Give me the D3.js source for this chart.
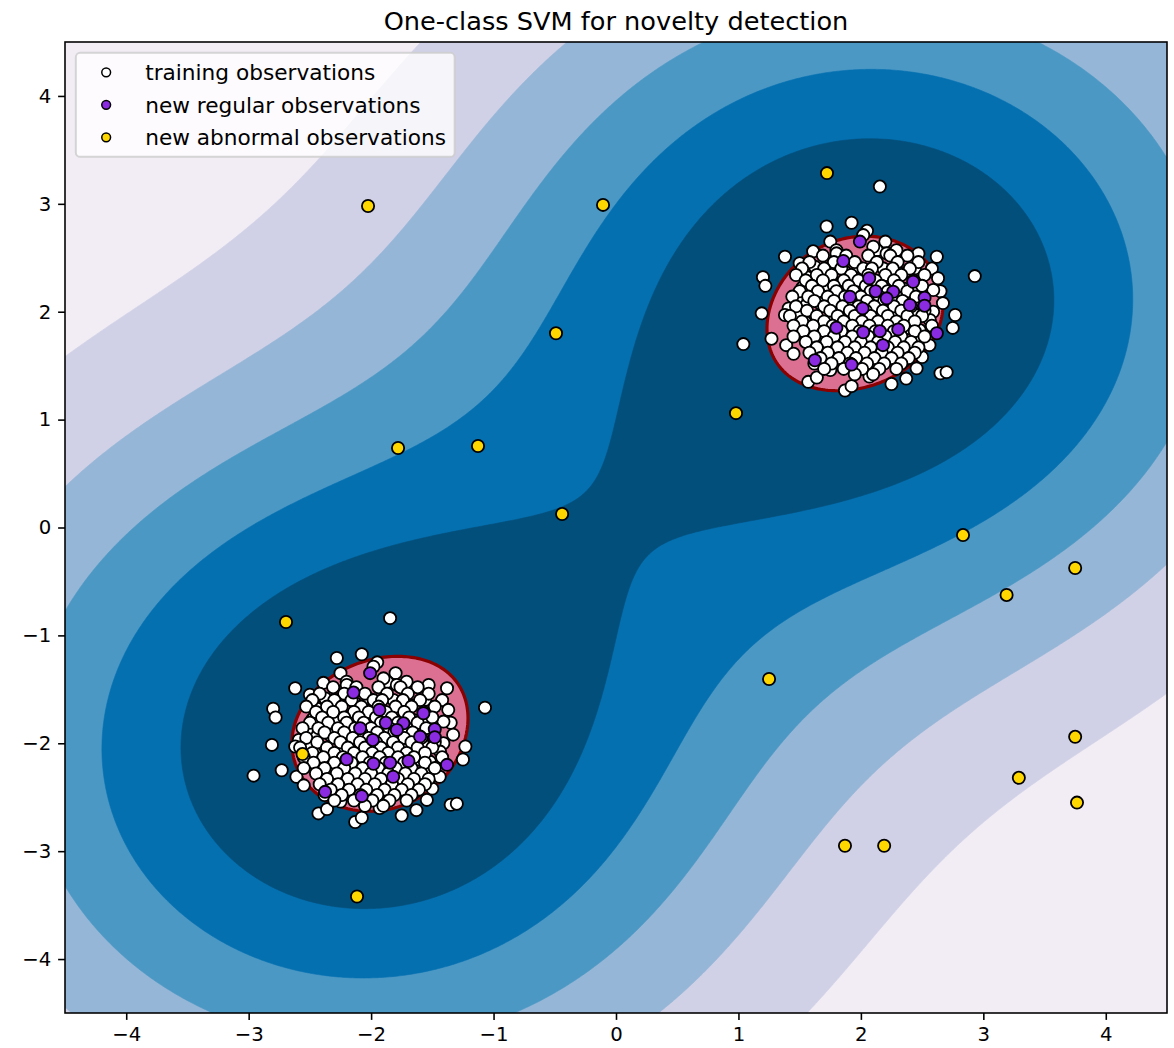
<!DOCTYPE html>
<html>
<head>
<meta charset="utf-8">
<script src="https://cdn.jsdelivr.net/npm/d3@7"></script>
<style>
  body { margin: 0; background: #ffffff; }
  svg { display: block; }
  text { font-family: "DejaVu Sans", sans-serif; fill: #000; }
</style>
</head>
<body>
<svg id="chart" width="1174" height="1048"></svg>
<script>
// ---------------------------------------------------------------------------
// Data
// ---------------------------------------------------------------------------
const titleText = "One-class SVM for novelty detection";

// The two blobs of regular observations share one sample of offsets,
// placed around each of these centres.
const clusterCentres = [[2, 2], [-2, -2]];

// Training sample: offsets from a cluster centre (outer ring first).
const trainOuter = [
  [-0.28, 0.79], [-0.076, 0.825], [0.155, 1.16], [-0.62, 0.51], [-0.50, 0.45],
  [-0.80, 0.32], [-0.78, 0.24], [-0.81, -0.015], [-0.96, -0.30], [-0.73, -0.25],
  [-0.61, -0.31], [-0.55, -0.39], [0.93, 0.33], [0.77, -0.03], [0.75, -0.15],
  [0.65, -0.57], [0.70, -0.56], [0.37, -0.62], [0.25, -0.67], [-0.13, -0.73],
  [-0.076, -0.69], [-0.43, -0.65], [-0.36, -0.61], [0.47, 0.54], [0.62, 0.51],
  [0.58, 0.40], [0.29, 0.57], [-0.25, 0.65], [0.05, 0.75], [0.20, 0.65],
  [0.63, 0.31], [0.65, 0.19], [0.67, 0.08], [0.59, 0.0], [0.48, -0.28],
  [0.56, -0.31], [0.50, -0.42], [0.35, -0.46], [0.07, -0.60], [-0.25, -0.54],
  [-0.59, 0.03], [-0.62, -0.03], [-0.48, 0.22], [-0.44, 0.32], [-0.39, 0.56],
  [-0.20, 0.57], [0.13, 0.57]
];
const trainCore = [
  [-0.199, 0.541], [0.101, 0.602], [0.210, 0.541], [-0.376, 0.417], [-0.267, 0.402],
  [-0.131, 0.371], [-0.022, 0.417], [0.182, 0.402], [0.318, 0.355], [0.441, 0.402],
  [-0.471, 0.232], [-0.389, 0.263], [-0.294, 0.216], [-0.171, 0.247], [-0.049, 0.247],
  [0.346, 0.216], [0.455, 0.185], [0.591, 0.201], [-0.444, 0.093], [-0.335, 0.077],
  [-0.212, 0.062], [-0.171, 0.0], [0.128, 0.0], [0.25, 0.0], [0.346, 0.0],
  [0.455, -0.031], [0.563, -0.077], [-0.457, -0.093], [-0.362, -0.124], [-0.253, -0.093],
  [-0.09, -0.077], [0.1, -0.077], [0.21, -0.093], [0.40, -0.154], [0.48, -0.17],
  [-0.444, -0.216], [-0.335, -0.278], [-0.226, -0.34], [-0.117, -0.309], [0.019, -0.34],
  [0.128, -0.371], [0.264, -0.309], [0.373, -0.34], [-0.308, -0.432], [-0.171, -0.432],
  [0.073, -0.463], [0.21, -0.432], [0.318, -0.463], [-0.008, -0.525], [-0.5, -0.03],
  [-0.525, 0.124], [0.019, 0.71], [0.455, -0.525],
  [-0.31, 0.52], [-0.12, 0.52], [0.06, 0.52], [0.24, 0.52], [0.38, 0.52],
  [-0.42, 0.46], [-0.22, 0.46], [-0.05, 0.46], [0.13, 0.46], [0.30, 0.46], [0.47, 0.46],
  [-0.48, 0.40], [-0.30, 0.40], [-0.16, 0.40], [0.02, 0.40], [0.09, 0.40], [0.26, 0.40], [0.40, 0.40],
  [-0.53, 0.34], [-0.36, 0.34], [-0.24, 0.34], [-0.08, 0.34], [0.06, 0.34], [0.20, 0.34], [0.33, 0.34], [0.52, 0.34],
  [-0.45, 0.29], [-0.31, 0.29], [-0.14, 0.29], [-0.02, 0.29], [0.12, 0.29], [0.27, 0.29], [0.43, 0.29],
  [-0.40, 0.24], [-0.22, 0.24], [-0.10, 0.24], [0.04, 0.24], [0.17, 0.24], [0.31, 0.24], [0.50, 0.24],
  [-0.50, 0.19], [-0.35, 0.19], [-0.20, 0.19], [-0.06, 0.19], [0.08, 0.19], [0.22, 0.19], [0.38, 0.19],
  [-0.56, 0.14], [-0.43, 0.14], [-0.27, 0.14], [-0.13, 0.14], [0.00, 0.14], [0.15, 0.14], [0.29, 0.14], [0.45, 0.14],
  [-0.38, 0.10], [-0.22, 0.10], [-0.08, 0.10], [0.05, 0.10], [0.19, 0.10], [0.34, 0.10],
  [-0.53, 0.05], [-0.30, 0.05], [-0.15, 0.05], [-0.02, 0.05], [0.11, 0.05], [0.27, 0.05], [0.41, 0.05],
  [-0.44, 0.01], [-0.25, 0.01], [-0.09, 0.01], [0.04, 0.01], [0.18, 0.01], [0.33, 0.01], [0.52, 0.01],
  [-0.58, -0.04], [-0.36, -0.04], [-0.19, -0.04], [-0.05, -0.04], [0.08, -0.04], [0.22, -0.04], [0.38, -0.04], [0.50, -0.04],
  [-0.48, -0.09], [-0.30, -0.09], [-0.14, -0.09], [0.01, -0.09], [0.14, -0.09], [0.29, -0.09], [0.44, -0.09],
  [-0.55, -0.13], [-0.39, -0.13], [-0.23, -0.13], [-0.07, -0.13], [0.07, -0.13], [0.22, -0.13], [0.35, -0.13], [0.58, -0.13],
  [-0.47, -0.18], [-0.30, -0.18], [-0.16, -0.18], [-0.01, -0.18], [0.12, -0.18], [0.27, -0.18], [0.44, -0.18],
  [-0.55, -0.23], [-0.38, -0.23], [-0.22, -0.23], [-0.07, -0.23], [0.06, -0.23], [0.20, -0.23], [0.33, -0.23], [0.52, -0.23],
  [-0.45, -0.28], [-0.28, -0.28], [-0.13, -0.28], [0.00, -0.28], [0.14, -0.28], [0.28, -0.28], [0.41, -0.28],
  [-0.36, -0.33], [-0.19, -0.33], [-0.05, -0.33], [0.08, -0.33], [0.22, -0.33], [0.35, -0.33], [0.47, -0.33],
  [-0.42, -0.38], [-0.27, -0.38], [-0.11, -0.38], [0.03, -0.38], [0.17, -0.38], [0.30, -0.38], [0.44, -0.38],
  [-0.33, -0.43], [-0.18, -0.43], [-0.04, -0.43], [0.11, -0.43], [0.25, -0.43], [0.39, -0.43],
  [-0.38, -0.48], [-0.24, -0.48], [-0.09, -0.48], [0.05, -0.48], [0.19, -0.48], [0.33, -0.48],
  [-0.30, -0.53], [-0.14, -0.53], [0.01, -0.53], [0.15, -0.53], [0.29, -0.53],
  [-0.05, -0.58], [0.10, -0.58]
];

// New regular observations: offsets from a cluster centre.
const testOffsets = [
  [-0.008, 0.65], [-0.144, 0.47], [0.068, 0.31], [0.12, 0.19], [0.264, 0.185],
  [0.21, 0.124], [0.427, 0.278], [0.52, 0.13], [0.40, 0.062], [0.52, 0.056],
  [-0.09, 0.139], [0.014, 0.031], [-0.2, -0.148], [0.019, -0.19], [0.155, -0.18],
  [0.305, -0.164], [0.18, -0.31], [0.62, -0.20], [-0.376, -0.45], [-0.076, -0.49]
];

// New abnormal observations.
const abnormalPoints = [
  [-2.025, 2.98], [-0.106, 2.99], [1.723, 3.285], [-0.49, 1.80], [-1.78, 0.737],
  [-1.127, 0.755], [-0.44, 0.125], [0.98, 1.06], [-2.695, -0.876], [2.834, -0.07],
  [3.19, -0.625], [3.75, -0.375], [1.25, -1.404], [3.75, -1.94], [3.29, -2.32],
  [3.765, -2.55], [1.87, -2.95], [2.19, -2.95], [-2.115, -3.42], [-2.56, -2.10]
];

const xTicks = [-4, -3, -2, -1, 0, 1, 2, 3, 4];
const yTicks = [-4, -3, -2, -1, 0, 1, 2, 3, 4];
const legendLabels = ["training observations", "new regular observations", "new abnormal observations"];

// Model settings
const nu = 0.1;
const gamma = 0.1;
const bandCount = 6;

// ---------------------------------------------------------------------------
// Layout
// ---------------------------------------------------------------------------
const W = 1174, H = 1048;
const plot = { left: 65, right: 1167, top: 42, bottom: 1013 };
const viewLimits = [-4.5, 4.5];

const x = d3.scaleLinear().domain(viewLimits).range([plot.left, plot.right]);
const y = d3.scaleLinear().domain(viewLimits).range([plot.bottom, plot.top]);

const PX = 1.97;                 // pixels per point
const tickFont = 10 * PX;
const legendFont = 11 * PX;
const titleFont = 13 * PX;
const markerR = 6.1;
const markerStroke = 1.8;
const legendMarkerR = 4.4;
const legendMarkerStroke = 1.5;

// PuBu ramp (linear between the nine ColorBrewer stops)
const pubuStops = ["#fff7fb", "#ece7f2", "#d0d1e6", "#a6bddb", "#74a9cf",
                   "#3690c0", "#0570b0", "#045a8d", "#023858"];
const pubu = d3.scaleLinear()
  .domain(d3.range(pubuStops.length).map(i => i / (pubuStops.length - 1)))
  .range(pubuStops)
  .interpolate(d3.interpolateRgb);

// ---------------------------------------------------------------------------
// Observations
// ---------------------------------------------------------------------------
const around = offs => clusterCentres.flatMap(c => offs.map(o => [c[0] + o[0], c[1] + o[1]]));
const trainOffsets = trainOuter.concat(trainCore);
const trainPoints = around(trainOffsets);
const testPoints = around(testOffsets);

// ---------------------------------------------------------------------------
// One-class SVM (RBF kernel) trained with SMO on the training observations
// ---------------------------------------------------------------------------
function fitOneClassSVM(X, nu, gamma) {
  const n = X.length, C = 1;
  const Q = new Float64Array(n * n);
  for (let i = 0; i < n; i++) {
    for (let j = i; j < n; j++) {
      const dx = X[i][0] - X[j][0], dy = X[i][1] - X[j][1];
      const v = Math.exp(-gamma * (dx * dx + dy * dy));
      Q[i * n + j] = v; Q[j * n + i] = v;
    }
  }
  const alpha = new Float64Array(n);
  const total = nu * n;
  const nFull = Math.floor(total);
  for (let i = 0; i < nFull; i++) alpha[i] = C;
  if (nFull < n) alpha[nFull] = total - nFull;

  const G = new Float64Array(n);
  for (let i = 0; i < n; i++) {
    let s = 0;
    for (let j = 0; j < n; j++) s += Q[i * n + j] * alpha[j];
    G[i] = s;
  }

  for (let it = 0; it < 400000; it++) {
    let i = -1, j = -1, gi = Infinity, gj = -Infinity;
    for (let t = 0; t < n; t++) {
      if (alpha[t] < C && G[t] < gi) { gi = G[t]; i = t; }
      if (alpha[t] > 0 && G[t] > gj) { gj = G[t]; j = t; }
    }
    if (i < 0 || j < 0 || gj - gi < 1e-7) break;
    const quad = Math.max(Q[i * n + i] + Q[j * n + j] - 2 * Q[i * n + j], 1e-12);
    const delta = Math.min((gj - gi) / quad, C - alpha[i], alpha[j]);
    if (delta <= 0) break;
    alpha[i] += delta; alpha[j] -= delta;
    for (let t = 0; t < n; t++) G[t] += delta * (Q[t * n + i] - Q[t * n + j]);
  }

  let ub = Infinity, lb = -Infinity, sumFree = 0, nFree = 0;
  for (let t = 0; t < n; t++) {
    if (alpha[t] >= C) lb = Math.max(lb, G[t]);
    else if (alpha[t] <= 0) ub = Math.min(ub, G[t]);
    else { sumFree += G[t]; nFree++; }
  }
  const rho = nFree > 0 ? sumFree / nFree : (ub + lb) / 2;

  const sv = [];
  for (let t = 0; t < n; t++) if (alpha[t] > 0) sv.push([X[t][0], X[t][1], alpha[t]]);

  return function decision(px, py) {
    let s = 0;
    for (let k = 0; k < sv.length; k++) {
      const dx = px - sv[k][0], dy = py - sv[k][1];
      s += sv[k][2] * Math.exp(-gamma * (dx * dx + dy * dy));
    }
    return s - rho;
  };
}

const decision = fitOneClassSVM(trainPoints, nu, gamma);

// Sample the decision function over the visible area
const N = 450;
const step = (viewLimits[1] - viewLimits[0]) / N;
const values = new Float64Array(N * N);
for (let j = 0; j < N; j++) {
  const py = viewLimits[0] + (j + 0.5) * step;
  for (let i = 0; i < N; i++) {
    values[j * N + i] = decision(viewLimits[0] + (i + 0.5) * step, py);
  }
}
const zMin = d3.min(values);
const levels = d3.range(bandCount + 1).map(k => zMin + (0 - zMin) * k / bandCount);

const gridToScreen = d3.geoTransform({
  point(cx, cy) {
    this.stream.point(x(viewLimits[0] + cx * step), y(viewLimits[0] + cy * step));
  }
});
const contourPath = d3.geoPath(gridToScreen);
const contourGen = d3.contours().size([N, N]);

// ---------------------------------------------------------------------------
// Drawing
// ---------------------------------------------------------------------------
const svg = d3.select("#chart");
svg.append("rect").attr("width", W).attr("height", H).attr("fill", "#ffffff");

svg.append("defs").append("clipPath").attr("id", "plot-clip")
  .append("rect")
  .attr("x", plot.left).attr("y", plot.top)
  .attr("width", plot.right - plot.left).attr("height", plot.bottom - plot.top);

const area = svg.append("g").attr("clip-path", "url(#plot-clip)");

// Filled decision bands
const bandColour = k => pubu((k + 0.5) / bandCount);
area.append("rect")
  .attr("x", plot.left).attr("y", plot.top)
  .attr("width", plot.right - plot.left).attr("height", plot.bottom - plot.top)
  .attr("fill", bandColour(0));

const bandGroup = area.append("g");
for (let k = 1; k < bandCount; k++) {
  const geom = contourGen.thresholds([levels[k]])(values)[0];
  bandGroup.append("path")
    .attr("d", contourPath(geom))
    .attr("fill", bandColour(k))
    .attr("fill-rule", "evenodd")
    .attr("stroke", bandColour(k))
    .attr("stroke-width", 0.6);
}

// Inside of the learned frontier
const frontier = contourGen.thresholds([0])(values)[0];
area.append("path")
  .attr("d", contourPath(frontier))
  .attr("fill", "#db7093")
  .attr("fill-rule", "evenodd");
area.append("path")
  .attr("d", contourPath(frontier))
  .attr("fill", "none")
  .attr("stroke", "#8b0000")
  .attr("stroke-width", 3.2)
  .attr("stroke-linejoin", "round");

// Observations
function scatter(points, fill) {
  area.append("g").selectAll("circle")
    .data(points)
    .join("circle")
    .attr("cx", d => x(d[0]))
    .attr("cy", d => y(d[1]))
    .attr("r", markerR)
    .attr("fill", fill)
    .attr("stroke", "#000")
    .attr("stroke-width", markerStroke);
}
scatter(trainPoints, "#ffffff");
scatter(testPoints, "#8a2be2");
scatter(abnormalPoints, "#ffd700");

// Axes
const tickLen = 3.5 * PX, tickPad = 3.5 * PX;
const fmt = d3.format("d");
const xAxis = svg.append("g")
  .attr("transform", `translate(0,${plot.bottom})`)
  .call(d3.axisBottom(x).tickValues(xTicks).tickFormat(fmt).tickSize(tickLen).tickPadding(tickPad));
const yAxis = svg.append("g")
  .attr("transform", `translate(${plot.left},0)`)
  .call(d3.axisLeft(y).tickValues(yTicks).tickFormat(fmt).tickSize(tickLen).tickPadding(tickPad));
[xAxis, yAxis].forEach(g => {
  g.attr("font-family", null).attr("font-size", null);
  g.select(".domain").remove();
  g.selectAll(".tick line").attr("stroke", "#000").attr("stroke-width", 0.8 * PX);
  g.selectAll(".tick text")
    .attr("fill", "#000")
    .style("font-family", "'DejaVu Sans', sans-serif")
    .style("font-size", tickFont + "px");
});

// Frame
svg.append("rect")
  .attr("x", plot.left).attr("y", plot.top)
  .attr("width", plot.right - plot.left).attr("height", plot.bottom - plot.top)
  .attr("fill", "none")
  .attr("stroke", "#000")
  .attr("stroke-width", 0.8 * PX);

// Title
svg.append("text")
  .attr("x", (plot.left + plot.right) / 2)
  .attr("y", plot.top - 6 * PX)
  .attr("text-anchor", "middle")
  .style("font-size", titleFont + "px")
  .text(titleText);

// Legend
const fs = legendFont;
const lg = {
  x: plot.left + 0.5 * fs,
  y: plot.top + 0.5 * fs,
  pad: 0.4 * fs,
  handle: 2.0 * fs,
  textPad: 0.8 * fs,
  rowGap: 0.5 * fs,
  rowH: fs
};
const legendG = svg.append("g");
const legendBox = legendG.append("rect")
  .attr("x", lg.x).attr("y", lg.y)
  .attr("rx", 0.2 * fs).attr("ry", 0.2 * fs)
  .attr("fill", "#ffffff").attr("fill-opacity", 0.8)
  .attr("stroke", "#cccccc").attr("stroke-opacity", 0.8)
  .attr("stroke-width", 1 * PX);
const legendFills = ["#ffffff", "#8a2be2", "#ffd700"];
let maxTextW = 0;
legendLabels.forEach((label, i) => {
  const cy = lg.y + lg.pad + i * (lg.rowH + lg.rowGap) + lg.rowH / 2;
  legendG.append("circle")
    .attr("cx", lg.x + lg.pad + lg.handle / 2)
    .attr("cy", cy)
    .attr("r", legendMarkerR)
    .attr("fill", legendFills[i])
    .attr("stroke", "#000")
    .attr("stroke-width", legendMarkerStroke);
  const t = legendG.append("text")
    .attr("x", lg.x + lg.pad + lg.handle + lg.textPad)
    .attr("y", cy)
    .attr("dy", "0.36em")
    .style("font-size", fs + "px")
    .text(label);
  maxTextW = Math.max(maxTextW, t.node().getComputedTextLength());
});
legendBox
  .attr("width", lg.pad * 2 + lg.handle + lg.textPad + maxTextW)
  .attr("height", lg.pad * 2 + legendLabels.length * lg.rowH + (legendLabels.length - 1) * lg.rowGap);
</script>
</body>
</html>
